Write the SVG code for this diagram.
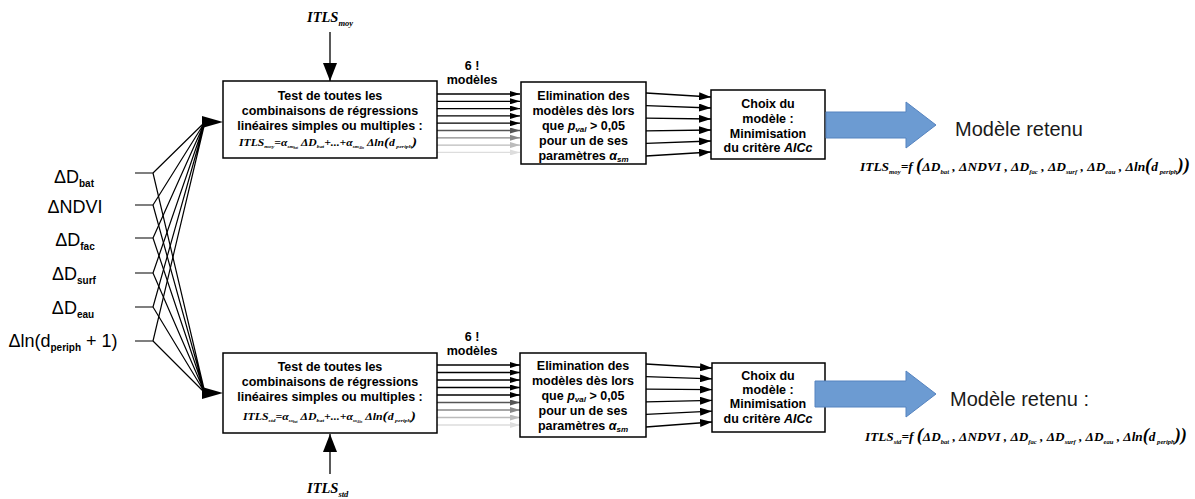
<svg xmlns="http://www.w3.org/2000/svg" width="1195" height="499" viewBox="0 0 1195 499">
<style>
.box{fill:#fff;stroke:#000;stroke-width:1.5}
.bt{font-family:"Liberation Sans",Arial,sans-serif;font-weight:bold;font-size:12.5px;text-anchor:middle;fill:#000}
.lab{font-family:"Liberation Sans",Arial,sans-serif;font-size:18px;text-anchor:middle;fill:#000}
.sub{font-size:10px;font-weight:bold}
.ret{font-family:"Liberation Sans",Arial,sans-serif;font-size:20px;fill:#1a1a1a}
.fm{font-family:"Liberation Serif","Times New Roman",serif;font-style:italic;font-weight:bold;fill:#000}
.itls{font-family:"Liberation Serif","Times New Roman",serif;font-style:italic;font-weight:bold;font-size:14.5px;fill:#000}
.ln{stroke:#000;stroke-width:1.3;fill:none}
.fan{stroke:#000;stroke-width:1.2;fill:none}
.blue{fill:#6c9bd2;stroke:#5583bf;stroke-width:1}
</style>
<defs>
<marker id="ah" viewBox="0 0 10 6" refX="10" refY="3" markerWidth="10" markerHeight="6" markerUnits="userSpaceOnUse" orient="auto"><path d="M0,0L10,3L0,6z" fill="#000"/></marker>
<marker id="ah5" viewBox="0 0 10 6" refX="10" refY="3" markerWidth="10" markerHeight="6" markerUnits="userSpaceOnUse" orient="auto"><path d="M0,0L10,3L0,6z" fill="#555"/></marker>
<marker id="ah8" viewBox="0 0 10 6" refX="10" refY="3" markerWidth="10" markerHeight="6" markerUnits="userSpaceOnUse" orient="auto"><path d="M0,0L10,3L0,6z" fill="#888"/></marker>
<marker id="ahb" viewBox="0 0 10 6" refX="10" refY="3" markerWidth="10" markerHeight="6" markerUnits="userSpaceOnUse" orient="auto"><path d="M0,0L10,3L0,6z" fill="#bbb"/></marker>
<marker id="ahd" viewBox="0 0 10 6" refX="10" refY="3" markerWidth="10" markerHeight="6" markerUnits="userSpaceOnUse" orient="auto"><path d="M0,0L10,3L0,6z" fill="#ddd"/></marker>
<marker id="ah2" viewBox="0 0 12 8" refX="12" refY="4" markerWidth="12" markerHeight="8" markerUnits="userSpaceOnUse" orient="auto"><path d="M0,0L12,4L0,8z" fill="#000"/></marker>
<marker id="big" viewBox="0 0 18 14" refX="18" refY="7" markerWidth="18" markerHeight="14" markerUnits="userSpaceOnUse" orient="auto"><path d="M0,0L18,7L0,14z" fill="#000"/></marker>
</defs>

<g id="connectors">
  <!-- ITLS inputs -->
  <line class="ln" x1="330" y1="32" x2="330" y2="81" marker-end="url(#big)"/>
  <line class="ln" x1="330" y1="474" x2="330" y2="434" marker-end="url(#big)"/>
  <!-- fan stubs -->
  <path class="fan" d="M135,173H153M135,205H153M135,238H153M135,273H153M135,307H153M135,341H153"/>
  <path class="fan" d="M153,173L205,122M153,205L205,122M153,238L205,122M153,273L205,122M153,307L205,122M153,341L205,122"/>
  <path class="fan" d="M153,173L205,393M153,205L205,393M153,238L205,393M153,273L205,393M153,307L205,393M153,341L205,393"/>
  <polygon points="202,116 223,122 202,128" fill="#000"/>
  <polygon points="202,387 223,393 202,399" fill="#000"/>
  <!-- top: models to elimination -->
  <g stroke-width="1.3">
    <line x1="437" y1="94" x2="520" y2="94" stroke="#000" marker-end="url(#ah)"/>
    <line x1="437" y1="101.3" x2="520" y2="101.3" stroke="#000" marker-end="url(#ah)"/>
    <line x1="437" y1="108.6" x2="520" y2="108.6" stroke="#000" marker-end="url(#ah)"/>
    <line x1="437" y1="115.9" x2="520" y2="115.9" stroke="#000" marker-end="url(#ah)"/>
    <line x1="437" y1="123.2" x2="520" y2="123.2" stroke="#000" marker-end="url(#ah)"/>
    <line x1="437" y1="130.5" x2="520" y2="130.5" stroke="#555" marker-end="url(#ah5)"/>
    <line x1="437" y1="137.8" x2="520" y2="137.8" stroke="#888" marker-end="url(#ah8)"/>
    <line x1="437" y1="145.1" x2="520" y2="145.1" stroke="#bbb" marker-end="url(#ahb)"/>
    <line x1="437" y1="152.4" x2="520" y2="152.4" stroke="#ddd" marker-end="url(#ahd)"/>
  </g>
  <!-- bottom: models to elimination -->
  <g stroke-width="1.3">
    <line x1="437" y1="365" x2="520" y2="365" stroke="#000" marker-end="url(#ah)"/>
    <line x1="437" y1="372.5" x2="520" y2="372.5" stroke="#000" marker-end="url(#ah)"/>
    <line x1="437" y1="380" x2="520" y2="380" stroke="#000" marker-end="url(#ah)"/>
    <line x1="437" y1="387.5" x2="520" y2="387.5" stroke="#000" marker-end="url(#ah)"/>
    <line x1="437" y1="395" x2="520" y2="395" stroke="#000" marker-end="url(#ah)"/>
    <line x1="437" y1="402.5" x2="520" y2="402.5" stroke="#555" marker-end="url(#ah5)"/>
    <line x1="437" y1="410" x2="520" y2="410" stroke="#888" marker-end="url(#ah8)"/>
    <line x1="437" y1="417.5" x2="520" y2="417.5" stroke="#bbb" marker-end="url(#ahb)"/>
    <line x1="437" y1="425" x2="520" y2="425" stroke="#ddd" marker-end="url(#ahd)"/>
  </g>
  <!-- elimination to choice -->
  <g class="ln">
    <line x1="646" y1="93" x2="711" y2="97" marker-end="url(#ah2)"/>
    <line x1="646" y1="105.6" x2="711" y2="108" marker-end="url(#ah2)"/>
    <line x1="646" y1="118.2" x2="711" y2="119" marker-end="url(#ah2)"/>
    <line x1="646" y1="130.8" x2="711" y2="130" marker-end="url(#ah2)"/>
    <line x1="646" y1="143.4" x2="711" y2="141" marker-end="url(#ah2)"/>
    <line x1="646" y1="156" x2="711" y2="152" marker-end="url(#ah2)"/>
    <line x1="646" y1="364" x2="712" y2="368" marker-end="url(#ah2)"/>
    <line x1="646" y1="376.6" x2="712" y2="378.8" marker-end="url(#ah2)"/>
    <line x1="646" y1="389.2" x2="712" y2="389.6" marker-end="url(#ah2)"/>
    <line x1="646" y1="401.8" x2="712" y2="400.4" marker-end="url(#ah2)"/>
    <line x1="646" y1="414.4" x2="712" y2="411.2" marker-end="url(#ah2)"/>
    <line x1="646" y1="427" x2="712" y2="422" marker-end="url(#ah2)"/>
  </g>
</g>

<g id="itls-moy">
  <text class="itls" x="307" y="22">ITLS<tspan font-size="8.5" dy="4">moy</tspan></text>
</g>
<g id="itls-std">
  <text class="itls" x="307" y="493">ITLS<tspan font-size="8.5" dy="4">std</tspan></text>
</g>

<g id="variables">
  <text class="lab" x="74" y="183">ΔD<tspan class="sub" dy="4">bat</tspan></text>
  <text class="lab" x="75" y="213">ΔNDVI</text>
  <text class="lab" x="75" y="246">ΔD<tspan class="sub" dy="4">fac</tspan></text>
  <text class="lab" x="74" y="280">ΔD<tspan class="sub" dy="4">surf</tspan></text>
  <text class="lab" x="73" y="314">ΔD<tspan class="sub" dy="4">eau</tspan></text>
  <text class="lab" x="63" y="347">Δln(d<tspan class="sub" dy="4">periph</tspan><tspan dy="-4"> + 1)</tspan></text>
</g>

<g id="test-moy">
  <rect class="box" x="223" y="81" width="214" height="77"/>
  <text class="bt" x="330" y="99.5">Test de toutes les</text>
  <text class="bt" x="330" y="114.5">combinaisons de régressions</text>
  <text class="bt" x="330" y="129.5">linéaires simples ou multiples :</text>
  <text class="fm" x="239" y="146" font-size="10" textLength="178" lengthAdjust="spacingAndGlyphs">ITLS<tspan font-size="5" dy="2">moy</tspan><tspan dy="-2">=α</tspan><tspan font-size="4.5" dy="2">sm</tspan><tspan font-size="3" dy="1">bat</tspan><tspan dy="-3"> ΔD</tspan><tspan font-size="5" dy="2">bat</tspan><tspan dy="-2">+...+α</tspan><tspan font-size="4.5" dy="2">sm</tspan><tspan font-size="3" dy="1">Δln</tspan><tspan dy="-3"> Δln</tspan><tspan font-size="13">(</tspan>d<tspan font-size="5" dy="2"> periph</tspan><tspan font-size="13" dy="-2">)</tspan></text>
</g>

<g id="test-std">
  <rect class="box" x="223" y="353" width="214" height="80"/>
  <text class="bt" x="330" y="370.5">Test de toutes les</text>
  <text class="bt" x="330" y="385.5">combinaisons de régressions</text>
  <text class="bt" x="330" y="400.5">linéaires simples ou multiples :</text>
  <text class="fm" x="243" y="420" font-size="10" textLength="173" lengthAdjust="spacingAndGlyphs">ITLS<tspan font-size="5" dy="2">std</tspan><tspan dy="-2">=α</tspan><tspan font-size="4.5" dy="2">ss</tspan><tspan font-size="3" dy="1">bat</tspan><tspan dy="-3"> ΔD</tspan><tspan font-size="5" dy="2">bat</tspan><tspan dy="-2">+...+α</tspan><tspan font-size="4.5" dy="2">ss</tspan><tspan font-size="3" dy="1">Δln</tspan><tspan dy="-3"> Δln</tspan><tspan font-size="13">(</tspan>d<tspan font-size="5" dy="2"> periph</tspan><tspan font-size="13" dy="-2">)</tspan></text>
</g>

<g id="models-moy">
  <text class="bt" x="472" y="69.5">6 !</text>
  <text class="bt" x="472" y="84">modèles</text>
</g>
<g id="models-std">
  <text class="bt" x="472" y="340.5">6 !</text>
  <text class="bt" x="472" y="355">modèles</text>
</g>

<g id="elim-moy">
  <rect class="box" x="521" y="82" width="125" height="82"/>
  <text class="bt" x="583.5" y="99.5">Elimination des</text>
  <text class="bt" x="583.5" y="114.5">modèles dès lors</text>
  <text class="bt" x="583.5" y="129.5">que <tspan font-style="italic">p</tspan><tspan font-style="italic" font-size="8" dy="2">val</tspan><tspan dy="-2"> &gt; 0,05</tspan></text>
  <text class="bt" x="583.5" y="144.5">pour un de ses</text>
  <text class="bt" x="583.5" y="159.5">paramètres <tspan font-style="italic">α</tspan><tspan font-style="italic" font-size="8" dy="2">sm</tspan></text>
</g>
<g id="elim-std">
  <rect class="box" x="520" y="353" width="126" height="84"/>
  <text class="bt" x="583" y="369.5">Elimination des</text>
  <text class="bt" x="583" y="384.5">modèles dès lors</text>
  <text class="bt" x="583" y="399.5">que <tspan font-style="italic">p</tspan><tspan font-style="italic" font-size="8" dy="2">val</tspan><tspan dy="-2"> &gt; 0,05</tspan></text>
  <text class="bt" x="583" y="414.5">pour un de ses</text>
  <text class="bt" x="583" y="429.5">paramètres <tspan font-style="italic">α</tspan><tspan font-style="italic" font-size="8" dy="2">sm</tspan></text>
</g>

<g id="choix-moy">
  <rect class="box" x="711" y="90" width="114" height="69"/>
  <text class="bt" x="768" y="107.5">Choix du</text>
  <text class="bt" x="768" y="122.5">modèle :</text>
  <text class="bt" x="768" y="137.5">Minimisation</text>
  <text class="bt" x="768" y="152">du critère <tspan font-style="italic">AICc</tspan></text>
</g>
<g id="choix-std">
  <rect class="box" x="712" y="363" width="113" height="69"/>
  <text class="bt" x="768" y="379.5">Choix du</text>
  <text class="bt" x="768" y="393.5">modèle :</text>
  <text class="bt" x="768" y="408">Minimisation</text>
  <text class="bt" x="768" y="422.5">du critère <tspan font-style="italic">AICc</tspan></text>
</g>

<g id="result-moy">
  <polygon class="blue" points="826,112 906,112 906,102 936,125 906,148 906,138 826,138"/>
  <text class="ret" x="955" y="136">Modèle retenu</text>
  <text class="fm" x="860" y="171" font-size="13" textLength="330" lengthAdjust="spacingAndGlyphs">ITLS<tspan font-size="6.5" dy="3">moy</tspan><tspan dy="-3">=f </tspan><tspan font-size="18">(</tspan>ΔD<tspan font-size="6.5" dy="3">bat</tspan><tspan dy="-3"> , ΔNDVI , ΔD</tspan><tspan font-size="6.5" dy="3">fac</tspan><tspan dy="-3"> , ΔD</tspan><tspan font-size="6.5" dy="3">surf</tspan><tspan dy="-3"> , ΔD</tspan><tspan font-size="6.5" dy="3">eau</tspan><tspan dy="-3"> , Δln</tspan><tspan font-size="18">(</tspan>d<tspan font-size="6.5" dy="3"> periph</tspan><tspan font-size="18" dy="-3">))</tspan></text>
</g>

<g id="result-std">
  <polygon class="blue" points="815,381 906,381 906,371 936,394 906,417 906,407 815,407"/>
  <text class="ret" x="950" y="406">Modèle retenu :</text>
  <text class="fm" x="865" y="441" font-size="13" textLength="322" lengthAdjust="spacingAndGlyphs">ITLS<tspan font-size="6.5" dy="3">std</tspan><tspan dy="-3">=f </tspan><tspan font-size="18">(</tspan>ΔD<tspan font-size="6.5" dy="3">bat</tspan><tspan dy="-3"> , ΔNDVI , ΔD</tspan><tspan font-size="6.5" dy="3">fac</tspan><tspan dy="-3"> , ΔD</tspan><tspan font-size="6.5" dy="3">surf</tspan><tspan dy="-3"> , ΔD</tspan><tspan font-size="6.5" dy="3">eau</tspan><tspan dy="-3"> , Δln</tspan><tspan font-size="18">(</tspan>d<tspan font-size="6.5" dy="3"> periph</tspan><tspan font-size="18" dy="-3">))</tspan></text>
</g>
</svg>
